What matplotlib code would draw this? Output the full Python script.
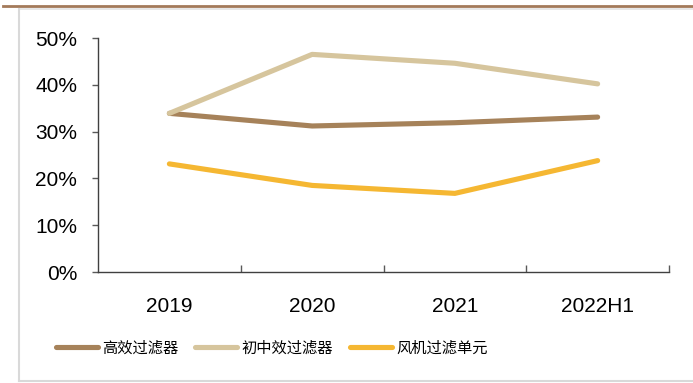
import matplotlib
matplotlib.use("Agg")
import matplotlib.pyplot as plt
from matplotlib.lines import Line2D
from matplotlib.ticker import PercentFormatter, FixedLocator

plt.rcParams['font.family'] = ['Liberation Sans', 'Noto Sans CJK SC', 'DejaVu Sans']

categories = ["2019", "2020", "2021", "2022H1"]
high_eff = [0.339, 0.312, 0.319, 0.331]
primary_mid = [0.339, 0.465, 0.446, 0.402]
fan_unit = [0.231, 0.185, 0.168, 0.238]
series_names = ["高效过滤器", "初中效过滤器", "风机过滤单元"]
colors = ["#A6825A", "#D6C59D", "#F5B732"]
yticks = [0, 0.1, 0.2, 0.3, 0.4, 0.5]

fig = plt.figure(figsize=(6.93, 3.83), dpi=100)
ax = fig.add_axes([98 / 693, 1 - 272 / 383, (669 - 98) / 693, (272 - 38) / 383])

x = list(range(len(categories)))
handles = []
for vals, name, c in zip([high_eff, primary_mid, fan_unit], series_names, colors):
    ln, = ax.plot(x, vals, color=c, lw=3.7, solid_capstyle='round',
                  solid_joinstyle='round', label=name)
    handles.append(ln)

ax.set_xlim(-0.5, len(categories) - 0.5)
ax.set_ylim(0, 0.5)
ax.set_yticks(yticks)
ax.yaxis.set_major_formatter(PercentFormatter(1.0, decimals=0))
ax.set_xticks(x)
ax.set_xticklabels(categories)
ax.xaxis.set_minor_locator(FixedLocator([i + 0.5 for i in range(len(categories))]))

for s in ["top", "right"]:
    ax.spines[s].set_visible(False)
for s in ["left", "bottom"]:
    ax.spines[s].set_color("#404040")
    ax.spines[s].set_linewidth(1.0)

ax.tick_params(axis='y', direction='out', length=4, width=1, color="#595959",
               labelsize=15, pad=11)
ax.tick_params(axis='x', which='major', length=0, labelsize=15, pad=18)
ax.tick_params(axis='x', which='minor', direction='in', length=5, width=1,
               color="#595959")

leg = fig.legend(handles=handles, loc='center', bbox_to_anchor=(272 / 693, 1 - 348 / 383),
                 ncol=3, frameon=False, handlelength=2.75, handletextpad=0.3,
                 columnspacing=1.1, prop={'family': ['Noto Sans CJK SC'], 'size': 11})
for h in leg.legend_handles:
    h.set_linewidth(3.7)
    h.set_solid_capstyle('round')

# decorative frame: brown rule along the top, light gray border left and bottom
fig.add_artist(Line2D([3 / 693, 1], [1 - 6 / 383, 1 - 6 / 383], transform=fig.transFigure,
                      color="#A37A5A", lw=2))
fig.add_artist(Line2D([19 / 693, 1], [1 - 9 / 383, 1 - 9 / 383], transform=fig.transFigure,
                      color="#E3E3E3", lw=1.2))
fig.add_artist(Line2D([19 / 693, 19 / 693], [1 - 9 / 383, 1 - 381 / 383],
                      transform=fig.transFigure, color="#D9D9D9", lw=1.5))
fig.add_artist(Line2D([19 / 693, 1], [1 - 381 / 383, 1 - 381 / 383],
                      transform=fig.transFigure, color="#D9D9D9", lw=1.5))

fig.savefig("out.png", dpi=100)
